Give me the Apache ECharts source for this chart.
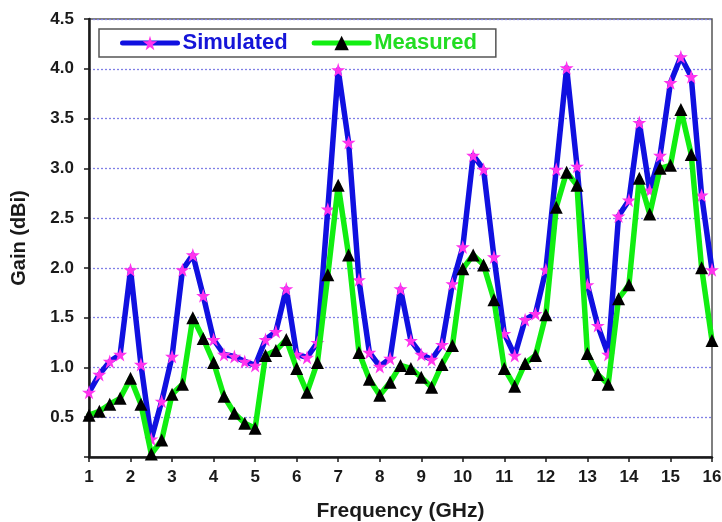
<!DOCTYPE html>
<html>
<head>
<meta charset="utf-8">
<script src="https://cdn.jsdelivr.net/npm/echarts@6/dist/echarts.min.js"></script>
<style>html,body{margin:0;padding:0;background:#fff;}#chart{width:722px;height:522px;}</style>
</head>
<body>
<div id="chart"></div>
<script>
const frequency = [1,1.25,1.5,1.75,2,2.25,2.5,2.75,3,3.25,3.5,3.75,4,4.25,4.5,4.75,5,5.25,5.5,5.75,6,6.25,6.5,6.75,7,7.25,7.5,7.75,8,8.25,8.5,8.75,9,9.25,9.5,9.75,10,10.25,10.5,10.75,11,11.25,11.5,11.75,12,12.25,12.5,12.75,13,13.25,13.5,13.75,14,14.25,14.5,14.75,15,15.25,15.5,15.75,16];
const simulated = [0.75,0.93,1.06,1.13,1.98,1.03,0.28,0.66,1.11,1.98,2.13,1.72,1.28,1.13,1.11,1.06,1.02,1.28,1.36,1.79,1.13,1.10,1.25,2.59,3.99,3.26,1.88,1.15,1.01,1.09,1.79,1.27,1.13,1.08,1.23,1.84,2.21,3.13,2.99,2.11,1.34,1.12,1.48,1.54,1.98,2.99,4.01,3.02,1.83,1.42,1.13,2.52,2.68,3.46,2.78,3.13,3.86,4.12,3.92,2.73,1.98];
const measured = [0.52,0.56,0.63,0.69,0.89,0.63,0.13,0.27,0.73,0.83,1.50,1.29,1.05,0.71,0.54,0.44,0.39,1.12,1.17,1.28,0.99,0.75,1.05,1.93,2.83,2.13,1.15,0.88,0.72,0.85,1.02,0.99,0.90,0.80,1.03,1.22,1.99,2.13,2.03,1.68,0.99,0.81,1.04,1.12,1.53,2.61,2.96,2.83,1.14,0.93,0.83,1.69,1.83,2.90,2.54,3.00,3.03,3.59,3.14,2.00,1.27];
const seriesNames = ['Simulated','Measured'];
const xTitle = 'Frequency (GHz)';
const yTitle = 'Gain (dBi)';

const FONT = '"Liberation Sans", Arial, sans-serif';
const STAR = 'path://M50,0 L61,35 L98,35 L68,57 L79,91 L50,70 L21,91 L32,57 L2,35 L39,35 Z';

const chart = echarts.init(document.getElementById('chart'), null, {renderer:'canvas'});
chart.setOption({
  animation: false,
  backgroundColor: '#fff',
  grid: {left: 89, right: 10, top: 19, bottom: 65, show: true, borderColor: '#555', borderWidth: 1.5,
    containLabel: false, outerBoundsMode: 'none'},
  legend: {
    left: 99, top: 29,
    padding: [3, 19, 3, 21],
    itemGap: 24,
    itemWidth: 55, itemHeight: 18,
    borderColor: '#555', borderWidth: 1.5,
    backgroundColor: '#fff',
    lineStyle: {width: 5},
    textStyle: {fontFamily: FONT, fontWeight: 'bold', fontSize: 22},
    data: [
      {name: seriesNames[0], textStyle: {color: '#1515d8'}},
      {name: seriesNames[1], textStyle: {color: '#22dd22'}}
    ]
  },
  xAxis: [{
    type: 'value', min: 1, max: 16, interval: 1,
    name: xTitle, nameLocation: 'middle', nameGap: 44,
    nameTextStyle: {fontFamily: FONT, fontWeight: 'bold', fontSize: 21, color: '#1a1a1a'},
    axisLine: {show: true, onZero: false, lineStyle: {color: '#1a1a1a', width: 2.5}},
    axisTick: {show: true, length: 5, lineStyle: {color: '#1a1a1a', width: 1.5}},
    axisLabel: {fontFamily: FONT, fontWeight: 'bold', fontSize: 17, color: '#1a1a1a', margin: 12},
    splitLine: {show: false}
  }],
  yAxis: [{
    type: 'value', min: 0.1, max: 4.5, splitNumber: 9, minInterval: 0.5, maxInterval: 0.5,
    name: yTitle, nameLocation: 'middle', nameGap: 60,
    nameTextStyle: {fontFamily: FONT, fontWeight: 'bold', fontSize: 20, color: '#1a1a1a'},
    axisLine: {show: true, lineStyle: {color: '#1a1a1a', width: 2.5}},
    axisTick: {show: true, length: 5, lineStyle: {color: '#1a1a1a', width: 1.5}},
    axisLabel: {fontFamily: FONT, fontWeight: 'bold', fontSize: 17, color: '#1a1a1a', margin: 15,
      formatter: v => (v < 0.4 ? '' : v.toFixed(1))},
    splitLine: {show: true, lineStyle: {color: '#8080e6', type: [2, 2], width: 1.3}}
  }],
  series: [
    {
      name: seriesNames[0], type: 'line',
      data: frequency.map((f, i) => [f, simulated[i]]),
      symbol: STAR, symbolSize: 14,
      itemStyle: {color: '#ff33ee', borderWidth: 0},
      lineStyle: {color: '#1010e0', width: 5.5, cap: 'round', join: 'round'},
      z: 2
    },
    {
      name: seriesNames[1], type: 'line',
      data: frequency.map((f, i) => [f, measured[i]]),
      symbol: 'triangle', symbolSize: 13,
      itemStyle: {color: '#000', borderWidth: 0},
      lineStyle: {color: '#11ee11', width: 5.5, cap: 'round', join: 'round'},
      z: 3
    }
  ]
});
</script>
</body>
</html>
